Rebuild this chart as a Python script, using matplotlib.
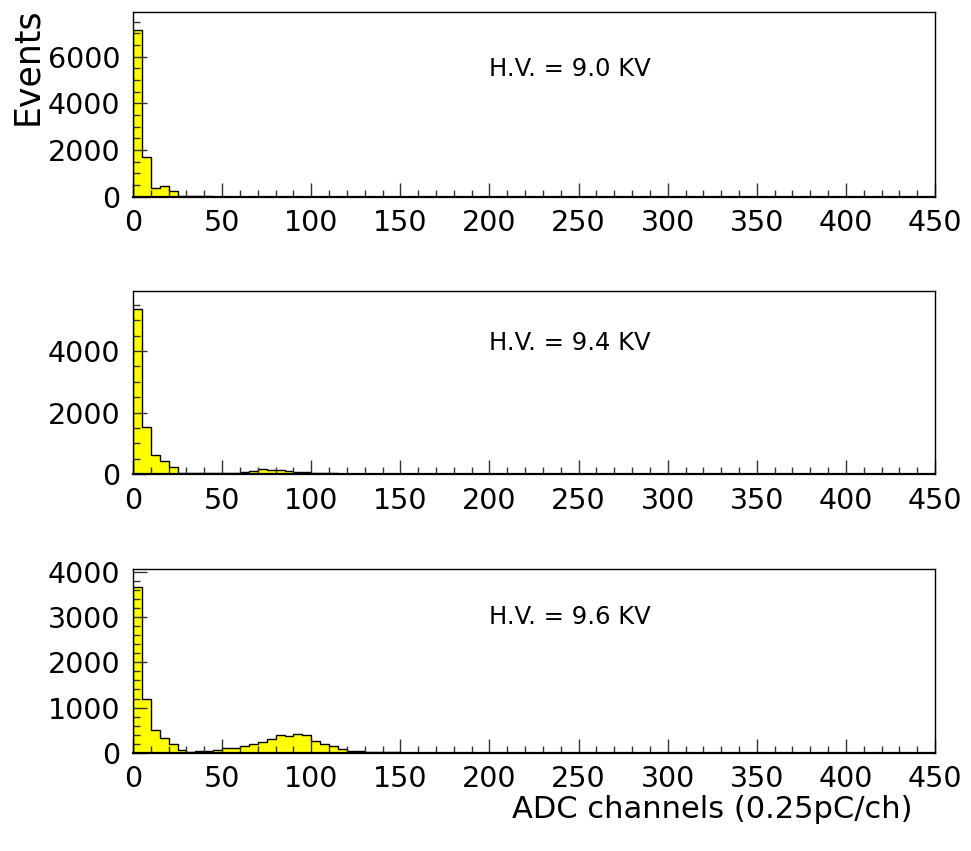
import numpy as np
import matplotlib
matplotlib.use("Agg")
import matplotlib.pyplot as plt
from matplotlib.ticker import MultipleLocator

## ADC binning: 5 channels per bin over 0-450
bin_width = 5
x_max = 450

## Counts per bin (bins not listed are empty)
counts_90 = [7150, 1700, 360, 460, 230, 25, 12, 6, 4, 2]
counts_94 = [5370, 1540, 620, 440, 245, 55, 38, 28, 28, 35,
             48, 48, 80, 112, 157, 147, 150, 108, 85, 72,
             55, 35, 28, 15, 12, 10, 8, 6, 5, 4,
             3, 3, 2, 2, 2, 1, 1]
counts_96 = [3650, 1200, 515, 324, 195, 74, 15, 44, 44, 74,
             103, 118, 147, 202, 250, 302, 390, 380, 412, 395,
             272, 195, 143, 81, 37, 37, 15, 15, 15, 15,
             10, 8, 7, 6, 5, 5, 4, 4, 3, 3,
             2, 2, 2, 1]

hv_labels = ["H.V. = 9.0 KV", "H.V. = 9.4 KV", "H.V. = 9.6 KV"]
all_counts = [counts_90, counts_94, counts_96]
y_major = [2000, 2000, 1000]
y_minor = [500, 500, 200]
label_y = [0.69, 0.715, 0.74]

## Axes boxes in figure fraction [left, bottom, width, height]
boxes = [[0.137, 0.769, 0.826, 0.2174],
         [0.137, 0.4427, 0.826, 0.2157],
         [0.137, 0.1152, 0.826, 0.2159]]

plt.rcParams["font.family"] = "DejaVu Sans"

fig = plt.figure(figsize=(9.71, 8.51), dpi=100)
edges = np.arange(0, x_max + bin_width, bin_width)

for counts, text, major, minor, ty, box in zip(all_counts, hv_labels, y_major, y_minor, label_y, boxes):
    ax = fig.add_axes(box)
    values = np.zeros(len(edges) - 1)
    values[:len(counts)] = counts
    ax.hist(edges[:-1], bins=edges, weights=values, histtype="stepfilled",
            facecolor="#ffff00", edgecolor="black", linewidth=1.0)

    ax.set_xlim(0, x_max)
    ax.set_ylim(0, max(counts) * 1.11)
    ax.xaxis.set_major_locator(MultipleLocator(50))
    ax.xaxis.set_minor_locator(MultipleLocator(10))
    ax.yaxis.set_major_locator(MultipleLocator(major))
    ax.yaxis.set_minor_locator(MultipleLocator(minor))
    ax.tick_params(which="both", direction="in", top=False, right=False,
                   labelsize=20.5, width=1.0, color="#333333")
    ax.tick_params(which="major", length=10)
    ax.tick_params(which="minor", length=5)
    ax.tick_params(axis="x", pad=9)
    ax.tick_params(axis="y", pad=9)
    for side in ["top", "right", "left"]:
        ax.spines[side].set_linewidth(1.0)
    ax.spines["bottom"].set_linewidth(1.6)

    ax.text(200, ty, text, transform=ax.get_xaxis_transform(),
            fontsize=17.5, ha="left", va="center")

fig.text(27 / 971, 1 - 66 / 851, "Events", rotation=90, fontsize=25,
         ha="center", va="center")
fig.text(912 / 971, 1 - 810 / 851, "ADC channels (0.25pC/ch)", fontsize=22,
         ha="right", va="center")

fig.savefig("out.png", dpi=100)
